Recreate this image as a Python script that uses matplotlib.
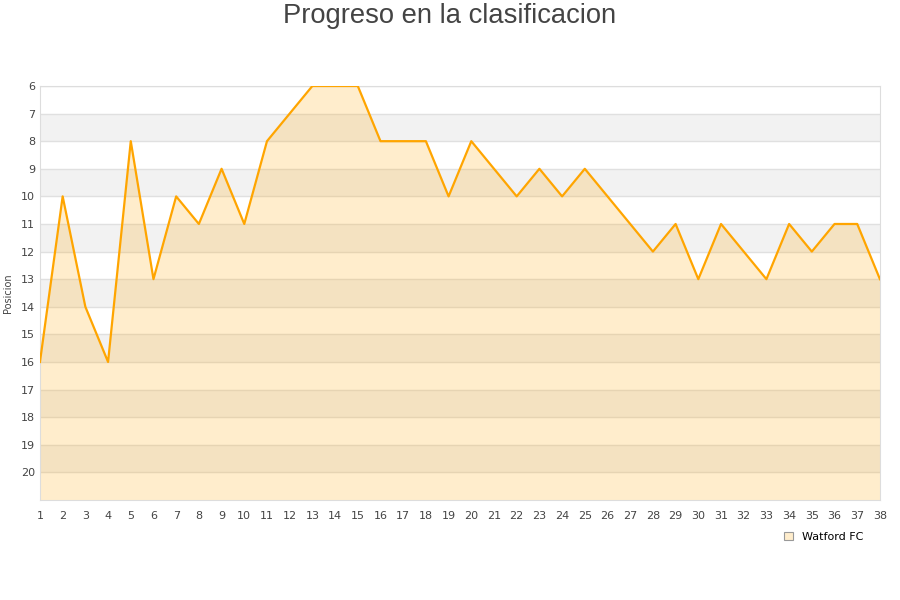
import matplotlib
matplotlib.use("Agg")
import matplotlib.pyplot as plt
from matplotlib.patches import Patch

# Data
jornadas = list(range(1, 39))
posiciones = [16, 10, 14, 16, 8, 13, 10, 11, 9, 11,
              8, 7, 6, 6, 6, 8, 8, 8, 10, 8,
              9, 10, 9, 10, 9, 10, 11, 12, 11, 13,
              11, 12, 13, 11, 12, 11, 11, 13]
y_ticks = list(range(6, 21))
equipo = "Watford FC"

fig = plt.figure(figsize=(9, 6), dpi=100)
ax = fig.add_axes([0.0444, 0.1667, 0.9333, 0.69])

# Alternating background bands
for y in range(7, 21, 2):
    ax.axhspan(y, y + 1, color="#f2f2f2", zorder=0, lw=0)

ax.fill_between(jornadas, posiciones, 21, color="#ffa500", alpha=0.2, lw=0, zorder=2)
ax.plot(jornadas, posiciones, color="#ffa500", lw=1.6, zorder=3)

ax.set_xlim(1, 38)
ax.set_ylim(21, 6)
ax.set_xticks(jornadas)
ax.set_yticks(y_ticks)
ax.grid(axis="y", color="#e0e0e0", lw=1, zorder=1)
ax.set_axisbelow(True)
ax.tick_params(length=0, labelsize=8, colors="#444444")
ax.tick_params(axis="x", pad=8)
for s in ax.spines.values():
    s.set_color("#dddddd")

ax.set_ylabel("Posicion", fontsize=7, color="#444444", labelpad=6)
fig.text(0.5, 0.973, "Progreso en la clasificacion", fontsize=19.7, color="#444444",
         family="Liberation Sans", ha="center", va="center")

leg = fig.legend(handles=[Patch(facecolor="#ffedcc", edgecolor="#999999", lw=0.8, label=equipo)],
                 loc="center", bbox_to_anchor=(0.915, 0.105), frameon=False,
                 fontsize=8, handlelength=0.8, handleheight=0.8, handletextpad=0.8)

fig.savefig("out.png", dpi=100)
